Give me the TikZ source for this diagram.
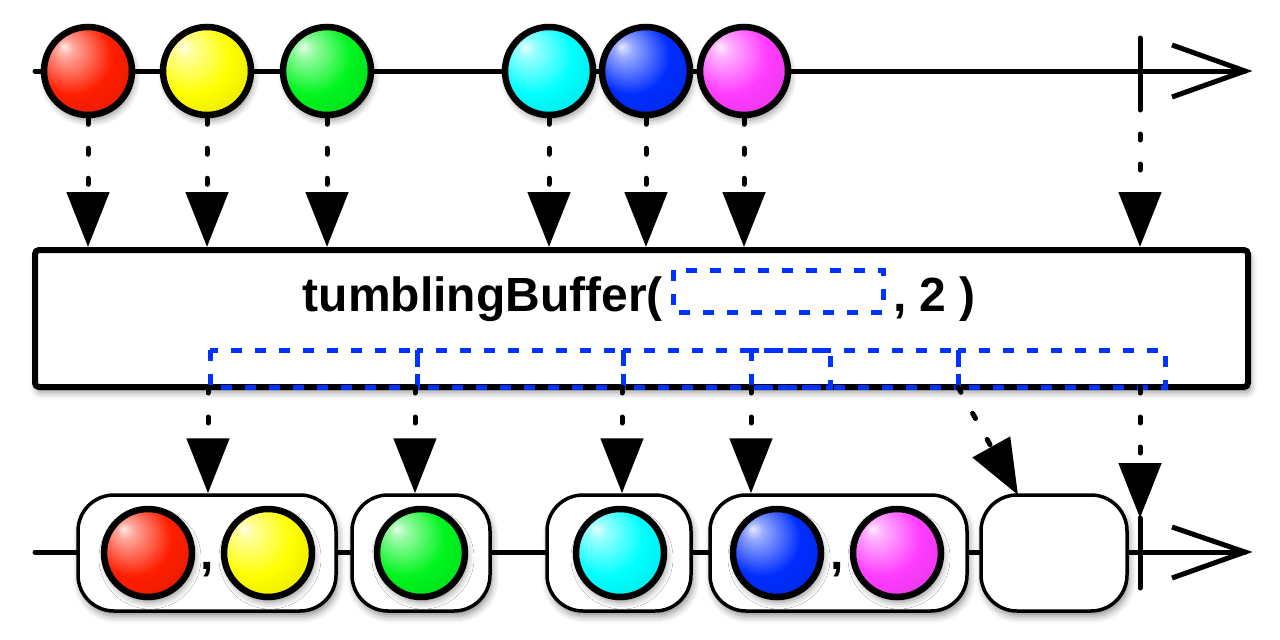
\documentclass[tikz,border=0pt]{standalone}
\usepackage{fontspec}
\setmainfont{Liberation Sans}
\usetikzlibrary{arrows.meta,shadows.blur}
\definecolor{mred}{RGB}{255,30,0}
\definecolor{myellow}{RGB}{255,255,0}
\definecolor{mgreen}{RGB}{0,245,30}
\definecolor{mcyan}{RGB}{0,255,255}
\definecolor{mblue}{RGB}{0,45,255}
\definecolor{mmagenta}{RGB}{255,60,255}
\definecolor{winblue}{RGB}{0,51,255}
\colorlet{mcol}{red}
\pgfdeclareradialshading[mcol]{marbleshade}{\pgfqpoint{-14bp}{14bp}}{%
  color(0bp)=(mcol!10!white); color(5bp)=(mcol!40!white); color(22bp)=(mcol);
  color(40bp)=(mcol!88!black); color(58bp)=(mcol!55!black)}
\tikzset{
  shad/.style={blur shadow={shadow xshift=2pt, shadow yshift=-5pt, shadow blur radius=7pt, shadow opacity=45}},
  marble/.style={circle, draw=black, line width=6.5pt, minimum size=88pt, inner sep=0pt,
    /utils/exec={\colorlet{mcol}{#1}}, shading=marbleshade, shad},
  tl/.style={line width=5pt, line cap=round},
  chev/.style={line width=5pt, line join=miter},
  dotarrow/.style={line width=5pt, line cap=round, dash pattern=on 6pt off 24pt,
    -{Triangle[length=55pt, width=42pt]}},
  opbox/.style={draw=black, fill=white, line width=6pt, rounded corners=4pt, shad},
  cont/.style={draw=black, fill=white, line width=3.5pt, rounded corners=36pt,
    minimum height=116pt, inner sep=0pt, shad},
  win/.style={draw=winblue, line width=5pt, dash pattern=on 11pt off 13pt},
  ttl/.style={font=\fontsize{48}{58}\selectfont\bfseries, inner sep=0pt},
}
\begin{document}
\begin{tikzpicture}[x=1pt, y=-1pt]
\useasboundingbox (0,0) rectangle (1280,640);
% ---------- top timeline
\coordinate (ts) at (35,71);
\coordinate (te) at (1245,71);
\coordinate (ttickA) at (1140,38);
\coordinate (ttickB) at (1140,104);
\coordinate (tca) at (1172,45);
\coordinate (tcb) at (1172,97);
\draw[tl] (ts) -- (te);
\draw[chev] (tca) -- (te) -- (tcb);
\draw[tl] (ttickA) -- (ttickB);
\node[marble=mred]     (m1) at (88,71) {};
\node[marble=myellow]  (m2) at (207,71) {};
\node[marble=mgreen]   (m3) at (327,71) {};
\node[marble=mcyan]    (m4) at (549,71) {};
\node[marble=mblue]    (m5) at (646,71) {};
\node[marble=mmagenta] (m6) at (744,71) {};
% ---------- operator box
\node[opbox, minimum width=1213pt, minimum height=137pt, inner sep=0pt] (box) at (641.5,318.5) {};
\foreach \m in {m1,m2,m3,m4,m5,m6}
  \draw[dotarrow] (\m.south) -- (\m.south |- box.north);
\draw[dotarrow] (ttickB) -- (ttickB |- box.north);
\node[ttl, anchor=base east] (t1) at (663,311) {tumblingBuffer(};
\node[ttl, anchor=base west] (t2) at (893,311) {, 2 )};
\draw[win] (673,270) rectangle (883,312);
% windows
\draw[win] (210,350) rectangle (417,387);
\draw[win] (417,350) rectangle (623,387);
\draw[win] (623,350) rectangle (830,387);
\draw[win] (751,350) rectangle (958,387);
\draw[win] (958,350) rectangle (1165,387);
% ---------- bottom timeline
\coordinate (bs) at (35,552);
\coordinate (be) at (1245,552);
\coordinate (bca) at (1172,527);
\coordinate (bcb) at (1172,578);
\coordinate (btickA) at (1140,518);
\coordinate (btickB) at (1140,588);
\draw[tl] (bs) -- (be);
\draw[chev] (bca) -- (be) -- (bcb);
\draw[tl] (btickA) -- (btickB);
\node[cont, minimum width=258pt] (c1) at (207,553) {};
\node[cont, minimum width=138pt] (c2) at (421,553) {};
\node[cont, minimum width=144pt] (c3) at (619,553) {};
\node[cont, minimum width=257pt] (c4) at (838.5,553) {};
\node[cont, minimum width=146pt] (c5) at (1054,553) {};
\node[marble=mred]     (b1) at (148,553) {};
\node[marble=myellow]  (b2) at (268,553) {};
\node[marble=mgreen]   (b3) at (421,553) {};
\node[marble=mcyan]    (b4) at (620,553) {};
\node[marble=mblue]    (b5) at (777,553) {};
\node[marble=mmagenta] (b6) at (897,553) {};
\node[ttl, anchor=base] (k1) at (207,569) {,};
\node[ttl, anchor=base] (k2) at (837,569) {,};
% bottom arrows
\coordinate (w1) at (208,387);
\coordinate (w2) at (415,387);
\coordinate (w3) at (622,387);
\coordinate (w4) at (751,387);
\coordinate (w5) at (958,387);
\coordinate (w6) at (1140,387);
\coordinate (c5t) at (1018,495);
\draw[dotarrow] (w1) -- (w1 |- c1.north);
\draw[dotarrow] (w2) -- (w2 |- c2.north);
\draw[dotarrow] (w3) -- (w3 |- c3.north);
\draw[dotarrow] (w4) -- (w4 |- c4.north);
\draw[dotarrow] (w5) -- (c5t);
\draw[dotarrow] (w6) -- (btickA);
\end{tikzpicture}
\end{document}
